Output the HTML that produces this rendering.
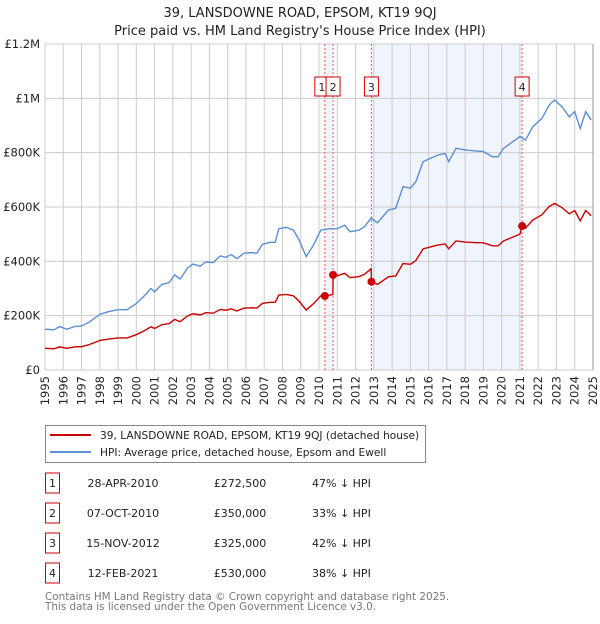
<!DOCTYPE html>
<html><head><meta charset="utf-8"><style>
body{margin:0;background:#fff;font-family:"DejaVu Sans","Liberation Sans",sans-serif;}
svg text{font-family:"DejaVu Sans","Liberation Sans",sans-serif;}
</style></head><body>
<svg id="c" width="600" height="620" viewBox="0 0 600 620" xmlns="http://www.w3.org/2000/svg">
<text x="300" y="17" text-anchor="middle" font-size="13" fill="#222">39, LANSDOWNE ROAD, EPSOM, KT19 9QJ</text>
<text x="300" y="35" text-anchor="middle" font-size="13" fill="#222">Price paid vs. HM Land Registry's House Price Index (HPI)</text>
<g id="plot"></g>
<g>
<rect x="45.5" y="425.5" width="380" height="37" fill="#fff" stroke="#888"/>
<line x1="50" y1="435" x2="91" y2="435" stroke="#cc0000" stroke-width="2"/>
<text x="100" y="439" font-size="10.6" fill="#222">39, LANSDOWNE ROAD, EPSOM, KT19 9QJ (detached house)</text>
<line x1="50" y1="452" x2="91" y2="452" stroke="#5b8fd6" stroke-width="2"/>
<text x="100" y="456" font-size="10.6" fill="#222">HPI: Average price, detached house, Epsom and Ewell</text>
</g>
<g id="table"></g>
<text x="45" y="600" font-size="10.4" fill="#777">Contains HM Land Registry data © Crown copyright and database right 2025.</text>
<text x="45" y="610" font-size="10.4" fill="#777">This data is licensed under the Open Government Licence v3.0.</text>
</svg>
<script>
const hpiYears=[1995.0,1995.5,1995.8,1996.2,1996.6,1997.0,1997.4,1997.8,1998.0,1998.5,1999.0,1999.5,2000.0,2000.4,2000.8,2001.0,2001.4,2001.8,2002.1,2002.4,2002.8,2003.1,2003.5,2003.8,2004.2,2004.6,2004.9,2005.2,2005.5,2005.9,2006.3,2006.6,2006.9,2007.3,2007.6,2007.8,2008.2,2008.6,2008.9,2009.3,2009.7,2010.1,2010.6,2011.0,2011.4,2011.7,2012.2,2012.5,2012.85,2013.2,2013.8,2014.2,2014.6,2015.0,2015.3,2015.7,2016.1,2016.5,2016.9,2017.1,2017.5,2018.0,2018.5,2019.0,2019.5,2019.8,2020.1,2020.6,2021.0,2021.3,2021.7,2022.2,2022.6,2022.9,2023.3,2023.7,2024.0,2024.3,2024.6,2024.9];
const hpiValues=[150,148,160,150,160,162,175,195,205,215,222,222,245,270,300,288,315,322,350,335,375,390,382,398,395,420,415,425,410,430,432,430,462,470,470,520,525,515,480,417,460,515,520,520,533,509,515,528,559,542,589,595,675,669,693,767,779,791,797,767,816,810,807,804,785,785,816,840,859,846,895,926,975,994,969,932,951,889,951,920];
const priceYears=[1995.0,1995.5,1995.8,1996.2,1996.6,1997.0,1997.4,1997.8,1998.0,1998.5,1999.0,1999.5,2000.0,2000.4,2000.8,2001.0,2001.4,2001.8,2002.1,2002.4,2002.8,2003.1,2003.5,2003.8,2004.2,2004.6,2004.9,2005.2,2005.5,2005.9,2006.3,2006.6,2006.9,2007.3,2007.6,2007.8,2008.2,2008.6,2008.9,2009.3,2009.7,2010.1,2010.32,2010.6,2010.76,2010.77,2011.0,2011.4,2011.7,2012.2,2012.5,2012.85,2012.87,2013.2,2013.8,2014.2,2014.6,2015.0,2015.3,2015.7,2016.1,2016.5,2016.9,2017.1,2017.5,2018.0,2018.5,2019.0,2019.5,2019.8,2020.1,2020.6,2021.0,2021.12,2021.3,2021.7,2022.2,2022.6,2022.9,2023.3,2023.7,2024.0,2024.3,2024.6,2024.9];
const priceValues=[80,78,85,80,85,86,93,103,109,114,118,118,130,143,159,153,167,171,186,178,199,207,203,211,209,223,220,225,217,228,229,228,245,249,249,276,278,273,254,221,244,273,272.5,276,278,350,347,356,340,344,353,373,325,315,343,346,392,389,403,446,453,460,464,446,475,471,469,468,457,457,475,489,500,530,522,552,571,602,613,598,575,587,549,587,568];
const saleLabels=["1","2","3","4"];
const saleYears=[2010.32,2010.77,2012.87,2021.12];
const saleValues=[272.5,350,325,530];
const saleDates=["28-APR-2010","07-OCT-2010","15-NOV-2012","12-FEB-2021"];
const salePrices=["£272,500","£350,000","£325,000","£530,000"];
const saleDiffs=["47% ↓ HPI","33% ↓ HPI","42% ↓ HPI","38% ↓ HPI"];
const yTicks=[0,200,400,600,800,1000,1200];
const yTickLabels=["£0","£200K","£400K","£600K","£800K","£1M","£1.2M"];
const xTicks=[1995,1996,1997,1998,1999,2000,2001,2002,2003,2004,2005,2006,2007,2008,2009,2010,2011,2012,2013,2014,2015,2016,2017,2018,2019,2020,2021,2022,2023,2024,2025];

const NS="http://www.w3.org/2000/svg";
const X0=45,X1=593,Y0=370,Y1=44;
function xs(y){return X0+(y-1995)/30*(X1-X0);}
function ys(v){return Y0-v/1200*(Y0-Y1);}
function mk(tag,attrs,parent){const e=document.createElementNS(NS,tag);for(const k in attrs)e.setAttribute(k,attrs[k]);parent.appendChild(e);return e;}
const plot=document.getElementById('plot');
let r=mk('rect',{x:xs(saleYears[0]),y:Y1,width:xs(saleYears[1])-xs(saleYears[0]),height:Y0-Y1,fill:'#f0f4fd'},plot);


r=mk('rect',{x:xs(saleYears[2]),y:Y1,width:xs(saleYears[3])-xs(saleYears[2]),height:Y0-Y1,fill:'#f0f4fd'},plot);


xTicks.forEach((t,i)=>{
  const l=mk('line',{x1:xs(t),x2:xs(t),y1:Y1,y2:Y0,stroke:'#ccc','stroke-width':1},plot);
  
  
  const tx=mk('text',{x:0,y:0,transform:`translate(${xs(t)+4},${Y0+6}) rotate(-90)`,'text-anchor':'end','font-size':11.5,fill:'#222'},plot);
  tx.textContent=t;
  
  
});
yTicks.forEach((t,i)=>{
  const l=mk('line',{x1:X0,x2:X1,y1:ys(t),y2:ys(t),stroke:'#ccc','stroke-width':1},plot);
  
  
  const tx=mk('text',{x:40,y:ys(t)+4,'text-anchor':'end','font-size':11.5,fill:'#222'},plot);
  tx.textContent=yTickLabels[i];
  
  
});
const ra=mk('line',{x1:X1,x2:X1,y1:Y1,y2:Y0,stroke:'#999','stroke-width':1},plot);


saleYears.forEach((s,i)=>{
  const l=mk('line',{x1:xs(s),x2:xs(s),y1:Y1,y2:Y0,stroke:'#ee5555','stroke-width':1,'stroke-dasharray':'2,2'},plot);
  
  
});
const hp=mk('polyline',{points:hpiYears.map((y,i)=>xs(y)+','+ys(hpiValues[i])).join(' '),fill:'none',stroke:'#5b8fd6','stroke-width':1.4},plot);


const pp=mk('polyline',{points:priceYears.map((y,i)=>xs(y)+','+ys(priceValues[i])).join(' '),fill:'none',stroke:'#cc0000','stroke-width':1.4},plot);


saleYears.forEach((s,i)=>{
  const c=mk('circle',{cx:xs(s),cy:ys(saleValues[i]),r:4,fill:'#cc0000'},plot);
  
  
  const off=i===0?-3:0;
  const b=mk('rect',{x:xs(s)+off-7,y:77,width:14,height:19,fill:'#fff',stroke:'#cc0000','stroke-width':1},plot);
  
  
  const t=mk('text',{x:xs(s)+off,y:91,'text-anchor':'middle','font-size':11,fill:'#222'},plot);
  t.textContent=saleLabels[i];
  
  
});
const tb=document.getElementById('table');
saleLabels.forEach((lab,i)=>{
  const yy=483+i*30;
  const b=mk('rect',{x:45.5,y:yy-10,width:14,height:20,fill:'#fff',stroke:'#cc0000'},tb);
  
  
  const cells=[[52.5,lab],[123,saleDates[i]],[240,salePrices[i]],[312,saleDiffs[i]]];
  cells.forEach(([x,txt],j)=>{
    const t=mk('text',{x:x,y:yy+4,'text-anchor':j<3?'middle':'start','font-size':11,fill:'#222'},tb);
    t.textContent=txt;
    
    
  });
});
</script>
</body></html>
